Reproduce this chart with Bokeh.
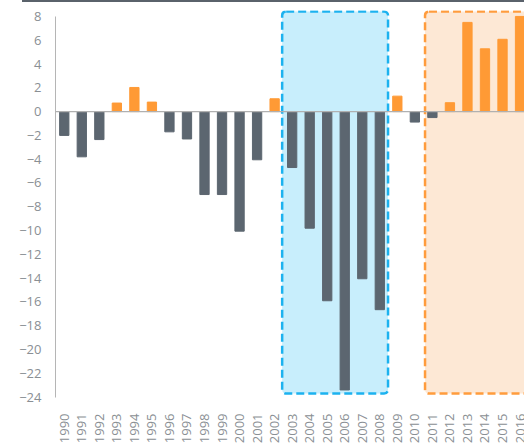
import math
from bokeh.plotting import figure
from bokeh.models import ColumnDataSource, FixedTicker, Span, BoxAnnotation, InlineStyleSheet
from bokeh.embed import file_html
from bokeh.resources import INLINE

# ---- data ----
years = list(range(1990, 2017))
values = [-2.0, -3.8, -2.35, 0.72, 2.03, 0.8, -1.7, -2.3, -6.97, -6.97,
          -10.05, -4.05, 1.08, -4.7, -9.8, -15.9, -23.4, -14.05, -16.65, 1.3,
          -0.88, -0.5, 0.75, 7.5, 5.28, 6.08, 8.0]
y_ticks = list(range(-24, 9, 2))
# highlighted periods (first year, last year)
blue_period = (2003, 2008)
orange_period = (2011, 2016)

POS = "#ff9a35"
NEG = "#5c6670"
colors = [POS if v >= 0 else NEG for v in values]
src = ColumnDataSource(dict(x=years, top=values, color=colors))

p = figure(width=524, height=446, output_backend="svg", toolbar_location=None,
           x_range=(1989.5, 1989.5 + 469 / 17.53), y_range=(-24.2, 8.5),
           min_border_left=55, min_border_right=0, min_border_top=10,
           min_border_bottom=44)
p.outline_line_color = None
p.background_fill_color = "white"
p.border_fill_color = "white"
p.grid.visible = False

# dark rule at the very top of the page (decorative, via CSS)
p.stylesheets = [InlineStyleSheet(css=(
    ":host { position: relative; }"
    ":host::after { content: ''; position: absolute; left: 22px; top: 0px;"
    " width: 502px; height: 2px; background: #5a626b; z-index: 10;"
    " pointer-events: none; }"))]

# highlight boxes
p.add_layout(BoxAnnotation(left=blue_period[0] - 0.57, right=blue_period[1] + 0.47,
                           bottom=-23.7, top=8.42,
                           fill_color="#c8eefc", fill_alpha=1.0,
                           line_color="#1cb2ef", line_alpha=1.0, line_width=2.5,
                           line_dash="8 4", border_radius=4, level="underlay"))
p.add_layout(BoxAnnotation(left=orange_period[0] - 0.42, right=orange_period[1] + 2,
                           bottom=-23.7, top=8.42,
                           fill_color="#fde8d5", fill_alpha=1.0,
                           line_color="#ff9c3d", line_alpha=1.0, line_width=2.5,
                           line_dash="8 4", border_radius=4, level="underlay"))

p.add_layout(Span(location=0, dimension="width", line_color="#b0b0b0", line_width=1.2))

p.vbar(x="x", top="top", bottom=0, width=0.53, color="color", source=src)

FONT = "Open Sans"
# y axis
ya = p.yaxis[0]
ya.ticker = FixedTicker(ticks=y_ticks)
ya.bounds = (-24, 8)
ya.axis_line_color = "#b5b5b5"
ya.major_tick_line_color = None
ya.minor_tick_line_color = None
ya.major_label_standoff = 8
ya.major_label_text_font = FONT
ya.major_label_text_font_size = "13px"
ya.major_label_text_color = "#8a8f94"

# x axis
xa = p.xaxis[0]
xa.ticker = FixedTicker(ticks=years)
xa.major_label_overrides = {y: str(y) for y in years}
xa.axis_line_color = None
xa.major_tick_line_color = None
xa.minor_tick_line_color = None
xa.major_label_orientation = math.pi / 2
xa.major_label_standoff = 8
xa.major_label_text_font = FONT
xa.major_label_text_font_size = "13px"
xa.major_label_text_color = "#8a8f94"

open("out.html", "w").write(file_html(p, INLINE))
